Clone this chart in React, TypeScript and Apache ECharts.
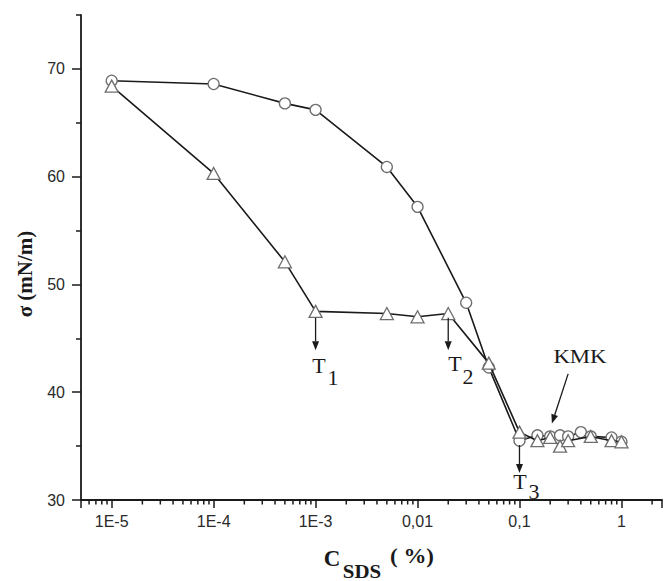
import React, { useEffect, useRef } from 'react';
import * as echarts from 'echarts';

// Upper curve (circles)
const circleConc = [1e-5, 1e-4, 5e-4, 1e-3, 5e-3, 0.01, 0.03, 0.05, 0.1, 0.15, 0.2, 0.25, 0.3, 0.4, 0.5, 0.8, 1];
const circleSigma = [68.9, 68.6, 66.8, 66.2, 60.9, 57.2, 48.3, 42.3, 35.5, 36.0, 35.9, 36.0, 35.9, 36.3, 35.9, 35.8, 35.4];
// Lower curve (triangles)
const triConc = [1e-5, 1e-4, 5e-4, 1e-3, 5e-3, 0.01, 0.02, 0.05, 0.1, 0.15, 0.2, 0.25, 0.3, 0.5, 0.8, 1];
const triSigma = [68.4, 60.3, 52.1, 47.5, 47.3, 47.0, 47.3, 42.7, 36.3, 35.5, 35.8, 35.0, 35.5, 35.9, 35.5, 35.4];

const xTickValues = [1e-5, 1e-4, 1e-3, 0.01, 0.1, 1];
const xTickLabels = ['1E-5', '1E-4', '1E-3', '0,01', '0,1', '1'];
const xMinorTicks = [
  6e-6, 7e-6, 8e-6, 9e-6,
  2e-5, 3e-5, 4e-5, 5e-5, 6e-5, 7e-5, 8e-5, 9e-5,
  2e-4, 3e-4, 4e-4, 5e-4, 6e-4, 7e-4, 8e-4, 9e-4,
  2e-3, 3e-3, 4e-3, 5e-3, 6e-3, 7e-3, 8e-3, 9e-3,
  0.02, 0.03, 0.04, 0.05, 0.06, 0.07, 0.08, 0.09,
  0.2, 0.3, 0.4, 0.5, 0.6, 0.7, 0.8, 0.9,
  2,
];
const yMajorTicks = [30, 40, 50, 60, 70];
const yMinorTicks = [35, 45, 55, 65, 75];

// Arrow annotations [x1, y1, x2, y2] in data space
const arrowT1 = [1e-3, 46.9, 1e-3, 43.9];
const arrowT2 = [0.02, 46.9, 0.02, 43.9];
const arrowT3 = [0.1, 35.1, 0.1, 32.5];
const arrowKMK = [0.3, 41.7, 0.208, 37.1];

const SERIF = '"Liberation Serif", "Times New Roman", serif';
const SANS = '"Liberation Sans", Arial, sans-serif';

export default function App() {
  const ref = useRef<HTMLDivElement>(null);

  useEffect(() => {
    document.body.style.margin = '0';
    const chart = echarts.init(ref.current!, null, { renderer: 'svg' });

    const fmtX = (v: number) => {
      const e = Math.log10(v);
      const i = xTickValues.findIndex((t) => Math.abs(Math.log10(t) - e) < 1e-6);
      return i >= 0 ? xTickLabels[i] : '';
    };

    chart.setOption({
      animation: false,
      backgroundColor: '#fff',
      grid: { left: 81, right: 0, top: 15, bottom: 81, containLabel: false },
      xAxis: [
        {
          type: 'log',
          logBase: 10,
          min: 5e-6,
          max: 2.5,
          axisLine: { show: true, lineStyle: { color: '#1a1a1a', width: 1.8 } },
          axisTick: { show: true, length: 8, lineStyle: { color: '#1a1a1a', width: 1.5 } },
          axisLabel: {
            formatter: fmtX,
            margin: 13,
            fontFamily: SANS,
            fontSize: 16,
            color: '#2a2a2a',
          },
          splitLine: { show: false },
          minorTick: { show: false },
        },
      ],
      yAxis: [
        {
          type: 'value',
          min: 30,
          max: 75,
          interval: 10,
          axisLine: { show: true, lineStyle: { color: '#1a1a1a', width: 1.8 } },
          axisTick: { show: true, length: 9, customValues: yMajorTicks, lineStyle: { color: '#1a1a1a', width: 1.5 } },
          axisLabel: {
            customValues: yMajorTicks,
            margin: 16,
            fontFamily: SANS,
            fontSize: 16,
            color: '#2a2a2a',
          },
          splitLine: { show: false },
        },
        {
          type: 'value',
          min: 30,
          max: 75,
          interval: 5,
          position: 'left',
          axisLine: { show: false },
          axisTick: { show: true, length: 5, customValues: yMinorTicks, lineStyle: { color: '#1a1a1a', width: 1.5 } },
          axisLabel: { show: false },
          splitLine: { show: false },
        },
      ],
      series: [
        {
          type: 'custom',
          name: 'minorTicks',
          silent: true,
          clip: false,
          data: xMinorTicks.map((v) => [v, 30]),
          encode: { x: 0, y: 1 },
          renderItem: (params: any, api: any) => {
            const p = api.coord([api.value(0), api.value(1)]);
            return {
              type: 'line',
              shape: { x1: p[0], y1: p[1], x2: p[0], y2: p[1] + 4.5 },
              style: { stroke: '#1a1a1a', lineWidth: 1.5 },
            };
          },
          z: 5,
        },
        {
          type: 'line',
          name: 'circles',
          data: circleConc.map((c, i) => [c, circleSigma[i]]),
          symbol: 'circle',
          symbolSize: 11,
          showAllSymbol: true,
          lineStyle: { color: '#1a1a1a', width: 1.6 },
          itemStyle: { color: '#ffffff', borderColor: '#6e6e6e', borderWidth: 1.3 },
          z: 3,
        },
        {
          type: 'line',
          name: 'triangles',
          data: triConc.map((c, i) => [c, triSigma[i]]),
          symbol: 'triangle',
          symbolSize: [13, 12],
          showAllSymbol: true,
          lineStyle: { color: '#1a1a1a', width: 1.6 },
          itemStyle: { color: '#ffffff', borderColor: '#6e6e6e', borderWidth: 1.3 },
          z: 4,
        },
      ],
    });

    const px = (x: number, y: number) => chart.convertToPixel({ gridIndex: 0 }, [x, y]) as number[];

    const arrow = (a: number[]) => {
      const p1 = px(a[0], a[1]);
      const p2 = px(a[2], a[3]);
      const dx = p2[0] - p1[0];
      const dy = p2[1] - p1[1];
      const len = Math.sqrt(dx * dx + dy * dy);
      const ux = dx / len;
      const uy = dy / len;
      const hl = 9;
      const hw = 3.5;
      const bx = p2[0] - ux * hl;
      const by = p2[1] - uy * hl;
      return [
        {
          type: 'line',
          shape: { x1: p1[0], y1: p1[1], x2: bx, y2: by },
          style: { stroke: '#1a1a1a', lineWidth: 1.3 },
          z: 10,
        },
        {
          type: 'polygon',
          shape: {
            points: [
              [p2[0], p2[1]],
              [bx - uy * hw, by + ux * hw],
              [bx + uy * hw, by - ux * hw],
            ],
          },
          style: { fill: '#1a1a1a' },
          z: 10,
        },
      ];
    };

    const txt = (text: string, x: number, y: number, font: string, extra: any = {}) => ({
      type: 'text',
      x,
      y,
      z: 10,
      ...extra,
      style: { text, font, fill: '#1a1a1a', textAlign: 'center', textVerticalAlign: 'middle' },
    });

    chart.setOption({
      graphic: [
        ...arrow(arrowT1),
        ...arrow(arrowT2),
        ...arrow(arrowT3),
        ...arrow(arrowKMK),
        txt('T', 319, 365, `22px ${SERIF}`),
        txt('1', 333, 377, `22px ${SERIF}`),
        txt('T', 455, 363, `22px ${SERIF}`),
        txt('2', 468, 376, `22px ${SERIF}`),
        txt('T', 520, 481, `22px ${SERIF}`),
        txt('3', 534, 491, `22px ${SERIF}`),
        txt('KMK', 580, 357, `19px ${SERIF}`, { scaleX: 1.2 }),
        txt('σ (mN/m)', 25, 274, `bold 21px ${SERIF}`, { rotation: Math.PI / 2 }),
        txt('C', 332, 558, `bold 23px ${SERIF}`),
        txt('SDS', 362, 571, `bold 19px ${SERIF}`, { scaleX: 1.1 }),
        txt('( %)', 412, 557, `bold 20px ${SERIF}`, { scaleX: 1.15 }),
      ],
    });

    return () => chart.dispose();
  }, []);

  return (
    <div
      ref={ref}
      style={{ position: 'fixed', left: 0, top: 0, width: 665, height: 581, background: '#fff' }}
    />
  );
}
